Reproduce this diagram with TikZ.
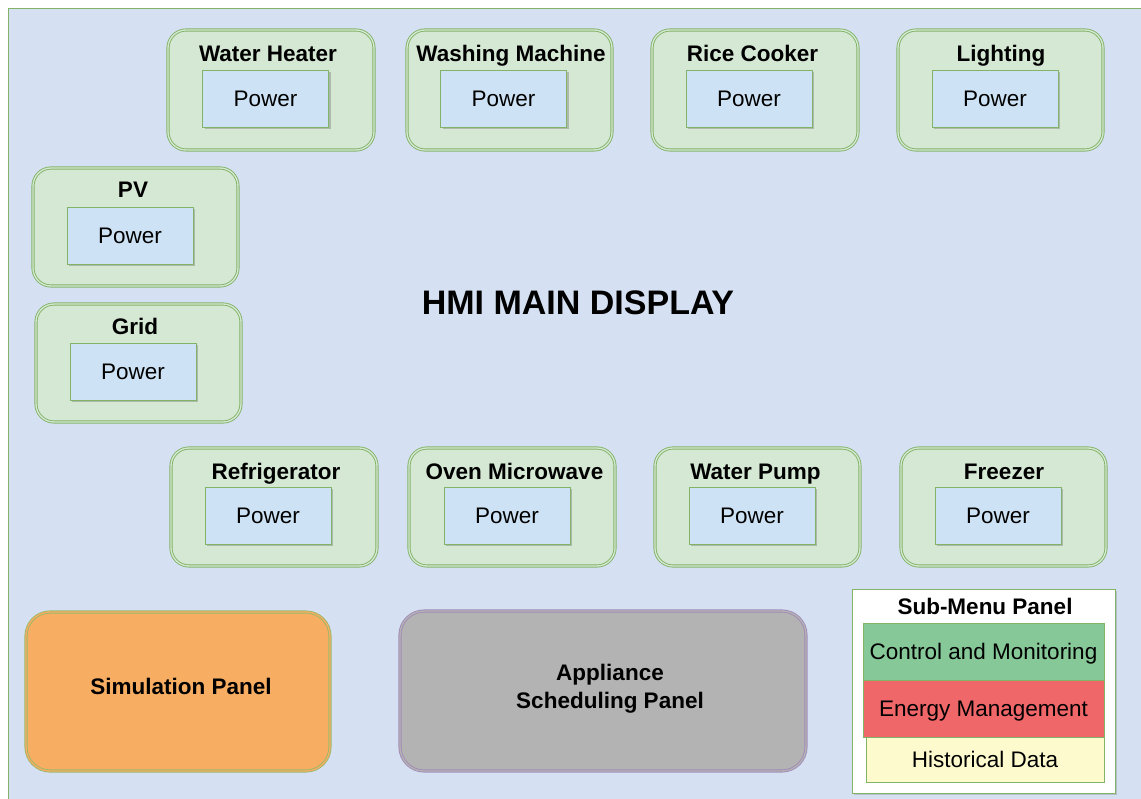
\documentclass[tikz,border=0pt]{standalone}
\usepackage{fontspec}
\setmainfont{Liberation Sans}
\usetikzlibrary{shadows}
\definecolor{bgblue}{HTML}{D5E1F2}
\definecolor{grn}{HTML}{82B366}
\definecolor{grnfill}{HTML}{D5E8D4}
\definecolor{pwrfill}{HTML}{CDE3F5}
\definecolor{orng}{HTML}{F7AE62}
\definecolor{orngline}{HTML}{9DB86A}
\definecolor{gry}{HTML}{B3B3B3}
\definecolor{purp}{HTML}{A28BB8}
\definecolor{cmgreen}{HTML}{86C898}
\definecolor{emred}{HTML}{EF6768}
\definecolor{hdyellow}{HTML}{FDFACD}
\tikzset{
  txt/.style={font=\fontsize{22.5}{28}\selectfont, inner sep=0pt, text height=16pt, text depth=0pt},
  btxt/.style={txt, font=\fontsize{22.5}{28}\selectfont\bfseries},
  appbox/.style={draw=grn, line width=0.9pt, double=grnfill, double distance=1.3pt,
    fill=grnfill, rounded corners=18pt, inner sep=0pt},
  pwrbox/.style={draw=grn, line width=0.9pt, fill=pwrfill, minimum width=126pt,
    minimum height=57pt, txt,
    drop shadow={shadow xshift=2pt, shadow yshift=-2pt, opacity=0.45}},
  menubox/.style={draw=grn, line width=0.9pt, minimum width=241pt, minimum height=57pt, txt},
}
\begin{document}
\begin{tikzpicture}[x=1pt,y=-1pt]
\useasboundingbox (0,0) rectangle (1141,799);
\clip (0,0) rectangle (1141,799);
\fill[white] (0,0) rectangle (1141,799);
\draw[draw=grn, line width=1.5pt, fill=bgblue] (8.5,8.5) rectangle (1160,820);

% main title
\node[inner sep=0pt, text height=23pt, text depth=0pt, font=\fontsize{34}{40}\selectfont\bfseries] (hmi) at (578,303) {HMI MAIN DISPLAY};

% top row
\node[appbox, minimum width=206pt, minimum height=120pt] (wh) at (271,90) {};
\node[btxt] (whT) at (268,54) {Water Heater};
\node[pwrbox] (whP) at (265.5,98.5) {Power};

\node[appbox, minimum width=205pt, minimum height=120pt] (wm) at (509.5,90) {};
\node[btxt] (wmT) at (511,54) {Washing Machine};
\node[pwrbox] (wmP) at (503.5,98.5) {Power};

\node[appbox, minimum width=206pt, minimum height=120pt] (rc) at (755,90) {};
\node[btxt] (rcT) at (752.5,54) {Rice Cooker};
\node[pwrbox] (rcP) at (749,98.5) {Power};

\node[appbox, minimum width=205pt, minimum height=120pt] (li) at (1000.5,90) {};
\node[btxt] (liT) at (1001,54) {Lighting};
\node[pwrbox] (liP) at (995,98.5) {Power};

% PV and Grid
\node[appbox, minimum width=205pt, minimum height=118pt] (pv) at (135.5,227) {};
\node[btxt] (pvT) at (133,190) {PV};
\node[pwrbox] (pvP) at (130,235.5) {Power};

\node[appbox, minimum width=205pt, minimum height=118pt] (gr) at (138.5,363) {};
\node[btxt] (grT) at (135,327) {Grid};
\node[pwrbox] (grP) at (133,372) {Power};

% bottom row
\node[appbox, minimum width=206pt, minimum height=118pt] (rf) at (274,507) {};
\node[btxt] (rfT) at (276,471) {Refrigerator};
\node[pwrbox] (rfP) at (268,515.5) {Power};

\node[appbox, minimum width=206pt, minimum height=118pt] (om) at (512,507) {};
\node[btxt] (omT) at (514.5,471) {Oven Microwave};
\node[pwrbox] (omP) at (507,515.5) {Power};

\node[appbox, minimum width=205pt, minimum height=118pt] (wp) at (757.5,507) {};
\node[btxt] (wpT) at (755.5,471) {Water Pump};
\node[pwrbox] (wpP) at (752,515.5) {Power};

\node[appbox, minimum width=205pt, minimum height=118pt] (fz) at (1003.5,507) {};
\node[btxt] (fzT) at (1004,471) {Freezer};
\node[pwrbox] (fzP) at (998,515.5) {Power};

% panels
\node[draw=orngline, line width=0.9pt, double=orng, double distance=1.3pt, fill=orng,
  rounded corners=24pt, minimum width=304pt, minimum height=159pt] (sim) at (178,691.5) {};
\node[btxt] (simT) at (181,686) {Simulation Panel};

\node[draw=purp, line width=0.9pt, double=gry, double distance=1.3pt, fill=gry,
  rounded corners=24pt, minimum width=406pt, minimum height=160pt] (asp) at (603,691) {};
\node[inner sep=0pt, font=\fontsize{22.5}{28}\selectfont\bfseries, align=center] (aspT) at (610,689) {Appliance\\Scheduling Panel};

% sub-menu panel
\node[draw=grn, line width=1pt, fill=white, minimum width=263pt, minimum height=204pt,
  inner sep=0pt, drop shadow={shadow xshift=2pt, shadow yshift=-2pt, opacity=0.35}] (sub) at (983.5,691) {};
\node[btxt] (subT) at (985,606) {Sub-Menu Panel};
\node[menubox, fill=hdyellow, minimum width=238pt, minimum height=45pt] (hd) at (985,759.5) {Historical Data};
\node[menubox, fill=emred] (em) at (983.5,708.5) {Energy Management};
\node[menubox, fill=cmgreen] (cm) at (983.5,651.5) {Control and Monitoring};
\end{tikzpicture}
\end{document}
